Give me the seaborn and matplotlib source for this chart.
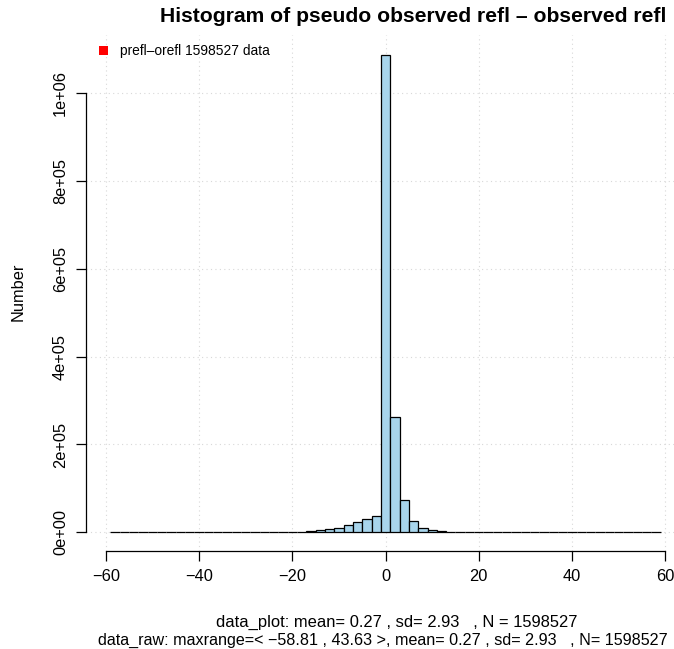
import matplotlib
matplotlib.use('Agg')
import matplotlib.pyplot as plt
import seaborn as sns
from matplotlib.patches import Patch

# Histogram counts, bins of width 2 from -59 to 59
bin_centers = list(range(-58, 60, 2))
counts = [10, 15, 20, 25, 30, 40, 50, 60, 80, 100,
          120, 150, 180, 220, 280, 350, 450, 600, 800, 1200,
          1800, 3000, 4500, 6800, 9800, 16600, 22800, 30300, 37000, 1088000,
          263000, 73600, 25000, 9800, 4500, 2000, 1000, 600, 400, 250,
          150, 100, 70, 50, 35, 25, 15, 10, 8, 5,
          3, 0, 0, 0, 0, 0, 0, 0, 0]
bin_edges = list(range(-59, 61, 2))

xticks = [-60, -40, -20, 0, 20, 40, 60]
yticks = [0, 200000, 400000, 600000, 800000, 1000000]
ytick_labels = ['0e+00', '2e+05', '4e+05', '6e+05', '8e+05', '1e+06']

title = 'Histogram of pseudo observed refl \u2013 observed refl'
legend_label = 'prefl\u2013orefl 1598527 data'
stats_plot = 'data_plot: mean= 0.27 , sd= 2.93   , N = 1598527'
stats_raw = 'data_raw: maxrange=< \u221258.81 , 43.63 >, mean= 0.27 , sd= 2.93   , N= 1598527'

sns.set_theme(style='white')
plt.rcParams['font.family'] = ['Liberation Sans', 'DejaVu Sans']
plt.rcParams['text.color'] = 'black'
plt.rcParams['xtick.color'] = 'black'
plt.rcParams['ytick.color'] = 'black'
plt.rcParams['xtick.labelcolor'] = 'black'
plt.rcParams['ytick.labelcolor'] = 'black'

W, H = 674, 649
fig = plt.figure(figsize=(W / 100, H / 100), dpi=100)
ax = fig.add_axes([86 / W, (H - 551.4) / H, 588 / W, 516 / H])

sns.histplot(x=bin_centers, weights=counts, bins=bin_edges, color='#a8d5ec',
             edgecolor='black', linewidth=0.9, alpha=1, ax=ax)

ax.set_xlim(-64.25, 61.87)
ax.set_ylim(-43470, 1131500)
ax.set_xticks(xticks)
ax.set_yticks(yticks)
ax.set_yticklabels(ytick_labels, rotation=90, va='center')
ax.grid(True, linestyle=(0, (1, 3)), color='#d8d8d8', linewidth=0.8)
ax.set_axisbelow(True)

for s in ['top', 'right']:
    ax.spines[s].set_visible(False)
ax.spines['left'].set_bounds(0, 1000000)
ax.spines['bottom'].set_bounds(-60, 60)
for s in ['left', 'bottom']:
    ax.spines[s].set_color('black')
    ax.spines[s].set_linewidth(0.9)
ax.tick_params(direction='out', length=7, width=0.9, color='black',
               labelcolor='black', labelsize=11.8, pad=6, left=True, bottom=True)
ax.set_xlabel('')
ax.set_ylabel('')

fig.text(413 / W, 1 - 17 / H, title, ha='center', va='center',
         fontsize=15.2, fontweight='bold')
fig.text(18 / W, 1 - 292 / H, 'Number', rotation=90, ha='center',
         va='center', fontsize=11.8)
fig.text(397 / W, 1 - 622 / H, stats_plot, ha='center', va='center', fontsize=11.9)
fig.text(383 / W, 1 - 640 / H, stats_raw, ha='center', va='center', fontsize=11.6)

fig.legend(handles=[Patch(facecolor='red', edgecolor='none')], labels=[legend_label],
           loc='center left', bbox_to_anchor=(99 / W, 1 - 51 / H),
           frameon=False, fontsize=9.9, handlelength=0.65, handleheight=0.65,
           handletextpad=0.9, borderpad=0, borderaxespad=0)

fig.savefig('out.png', dpi=100)
